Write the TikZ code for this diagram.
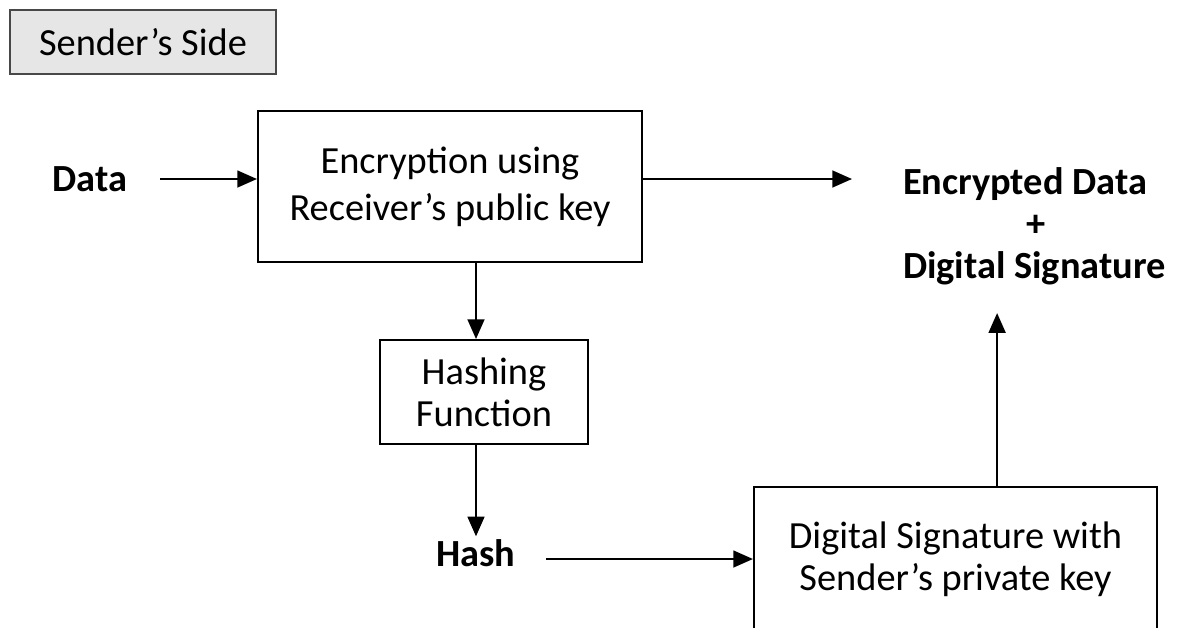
\documentclass[tikz,border=0pt]{standalone}
\usepackage{fontspec}
\setmainfont{Carlito}
\usetikzlibrary{arrows.meta}
\definecolor{SideFill}{RGB}{230,230,230}
\definecolor{SideEdge}{RGB}{72,72,72}
\tikzset{
  flow/.style={-{Triangle[length=14pt,width=12pt]},line width=1.4pt,draw=black},
  box/.style={draw=black,line width=1.4pt,align=center,inner sep=0pt},
  tagbox/.style={draw=SideEdge,fill=SideFill,line width=1.8pt,
    minimum width=6.65cm,minimum height=1.6cm,inner sep=0pt},
  label/.style={font=\fontsize{27.3}{29.9}\selectfont\bfseries,inner sep=2pt}
}

\begin{document}
\begin{tikzpicture}[x=0.025cm,y=-0.025cm,font=\fontsize{27.3}{29.9}\selectfont]
  \useasboundingbox (0,0) rectangle (1192,627);
  \node[tagbox] (side) at (143,42) {Sender’s Side};

  \node[box,minimum width=9.6cm,minimum height=3.775cm] (encrypt) at (450,186.5) {
    Encryption using\\[3.5pt]
    Receiver’s public key
  };
  \node[box,minimum width=5.2cm,minimum height=2.6cm] (hashfn) at (484,392) {
    Hashing\\Function
  };
  \node[box,minimum width=10.075cm,minimum height=3.625cm] (signbox) at (955.5,559.5) {
    Digital Signature with\\Sender’s private key
  };

  \node[label] (data) at (90,179) {Data};
  \node[label] (hash) at (476,553) {Hash};
  \node[label,align=left,anchor=west] (output) at (900,226) {
    Encrypted Data\\
    \hspace*{3.08cm}+\\
    Digital Signature
  };

  \draw[flow,shorten <=0.75cm] (data) -- (encrypt.west |- data);
  \draw[flow,shorten >=1.2cm] (encrypt.east |- data) -- (output.west |- data);
  \draw[flow] (encrypt.south -| hash) -- (hashfn.north -| hash);
  \draw[flow] (hashfn.south -| hash) -- (hash);
  \draw[flow,shorten <=0.68cm] ([yshift=-0.15cm]hash.east) -- ([yshift=-0.15cm]hash.east -| signbox.west);
  \draw[flow,shorten >=0.63cm] ([xshift=1.04cm]signbox.north) -- ([xshift=1.04cm]signbox.north |- output.south);
\end{tikzpicture}
\end{document}
